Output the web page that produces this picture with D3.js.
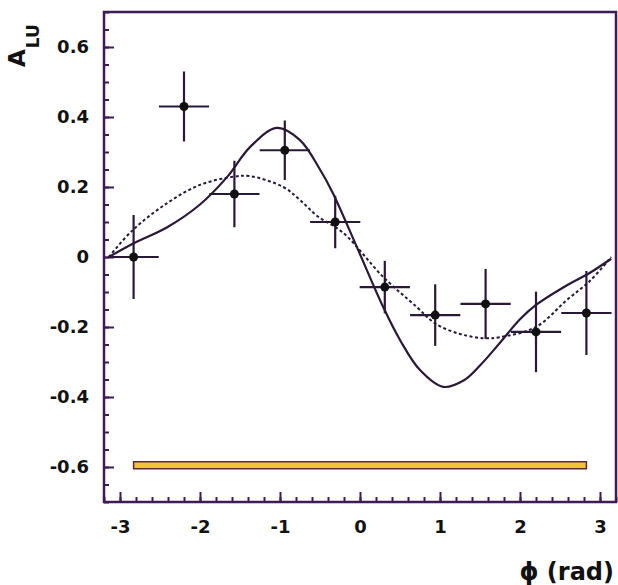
<!DOCTYPE html>
<html>
<head>
<meta charset="utf-8">
<script src="https://cdn.jsdelivr.net/npm/d3@7"></script>
<style>
  body { margin: 0; background: #fff; }
  svg text { font-family: "DejaVu Sans", sans-serif; font-weight: bold; fill: #111; }
</style>
</head>
<body>
<div id="chart"></div>
<script>
// measured asymmetry per phi bin
var binCenters = [-2.83, -2.2, -1.57, -0.94, -0.31, 0.31, 0.94, 1.57, 2.2, 2.83];
var binHalfWidth = [0.314, 0.314, 0.314, 0.314, 0.314, 0.314, 0.314, 0.314, 0.314, 0.314];
var asym = [0.0, 0.43, 0.18, 0.305, 0.1, -0.086, -0.166, -0.134, -0.214, -0.16];
var statErr = [0.12, 0.10, 0.095, 0.085, 0.075, 0.075, 0.088, 0.10, 0.115, 0.12];

// model curves
var solidPhi = [-3.14, -2.84, -2.41, -2.0, -1.66, -1.375, -1.04, -0.75, -0.5, -0.34, -0.04, 0.29, 0.5, 0.75, 1.04, 1.3, 1.5, 1.75, 2.0, 2.2, 2.54, 2.875, 3.14];
var solidA   = [0.0, 0.038, 0.085, 0.15, 0.229, 0.314, 0.369, 0.334, 0.25, 0.183, 0.029, -0.143, -0.237, -0.323, -0.371, -0.352, -0.31, -0.245, -0.178, -0.137, -0.087, -0.045, -0.005];
var dashPhi = [-3.14, -2.84, -2.41, -2.0, -1.59, -1.375, -0.96, -0.75, -0.54, -0.21, 0.29, 0.71, 0.94, 1.25, 1.55, 1.75, 2.2, 2.58, 2.875, 3.14];
var dashA   = [0.0, 0.077, 0.154, 0.206, 0.229, 0.231, 0.2, 0.163, 0.118, 0.069, -0.057, -0.143, -0.19, -0.22, -0.232, -0.229, -0.2, -0.124, -0.068, 0.0];

// systematic band
var sysBandPhi = [-2.83, 2.83];
var sysBandA = [-0.605, -0.585];

var xMajor = [-3, -2, -1, 0, 1, 2, 3];
var yMajor = [-0.6, -0.4, -0.2, 0, 0.2, 0.4, 0.6];

var W = 618, H = 585;
var mLeft = 104, mRight = 616, mTop = 12, mBottom = 502;
var ink = "#2a1838", frame = "#3f1a55";

var svg = d3.select("#chart").append("svg")
    .attr("width", W)
    .attr("height", H);

var x = d3.scaleLinear().domain([-3.2, 3.2]).range([mLeft, mRight]);
var y = d3.scaleLinear().domain([-0.7, 0.7]).range([mBottom, mTop]);

// minor ticks
var xMinor = d3.range(-3.2, 3.21, 0.2).map(function(d){ return +d.toFixed(2); });
var yMinor = d3.range(-0.7, 0.701, 0.05).map(function(d){ return +d.toFixed(2); });

svg.append("g")
    .attr("transform", "translate(0," + mBottom + ")")
    .call(d3.axisBottom(x).tickValues(xMinor).tickSize(-5).tickFormat(""))
    .call(function(g){ g.select(".domain").remove(); g.selectAll("line").attr("stroke", frame).attr("stroke-width", 2); });

svg.append("g")
    .attr("transform", "translate(" + mLeft + ",0)")
    .call(d3.axisLeft(y).tickValues(yMinor).tickSize(-5).tickFormat(""))
    .call(function(g){ g.select(".domain").remove(); g.selectAll("line").attr("stroke", frame).attr("stroke-width", 2); });

// major ticks + labels
svg.append("g")
    .attr("transform", "translate(0," + mBottom + ")")
    .call(d3.axisBottom(x).tickValues(xMajor).tickSize(-10).tickPadding(18).tickFormat(function(d){ return String(d); }))
    .call(function(g){
        g.select(".domain").remove();
        g.selectAll("line").attr("stroke", frame).attr("stroke-width", 2);
        g.selectAll("text").attr("font-size", 18).attr("fill", "#111")
            .style("font-family", "DejaVu Sans, sans-serif").style("font-weight", "bold");
    });

svg.append("g")
    .attr("transform", "translate(" + mLeft + ",0)")
    .call(d3.axisLeft(y).tickValues(yMajor).tickSize(-10).tickPadding(15)
        .tickFormat(function(d){ return d === 0 ? "0" : d.toFixed(1); }))
    .call(function(g){
        g.select(".domain").remove();
        g.selectAll("line").attr("stroke", frame).attr("stroke-width", 2);
        g.selectAll("text").attr("font-size", 18).attr("fill", "#111")
            .style("font-family", "DejaVu Sans, sans-serif").style("font-weight", "bold");
    });

// frame
svg.append("rect")
    .attr("x", mLeft).attr("y", mTop)
    .attr("width", mRight - mLeft).attr("height", mBottom - mTop)
    .attr("fill", "none").attr("stroke", frame).attr("stroke-width", 2.5);

// systematic band
svg.append("rect")
    .attr("x", x(sysBandPhi[0]))
    .attr("y", y(sysBandA[1]))
    .attr("width", x(sysBandPhi[1]) - x(sysBandPhi[0]))
    .attr("height", y(sysBandA[0]) - y(sysBandA[1]))
    .attr("fill", "#f2c23a")
    .attr("stroke", "#5a2a3a")
    .attr("stroke-width", 1.5);

// curves
var line = d3.line()
    .x(function(d){ return x(d[0]); })
    .y(function(d){ return y(d[1]); })
    .curve(d3.curveCatmullRom.alpha(0.5));

svg.append("path")
    .datum(d3.zip(dashPhi, dashA))
    .attr("d", line)
    .attr("fill", "none")
    .attr("stroke", ink)
    .attr("stroke-width", 2)
    .attr("stroke-dasharray", "3,2.5");

svg.append("path")
    .datum(d3.zip(solidPhi, solidA))
    .attr("d", line)
    .attr("fill", "none")
    .attr("stroke", ink)
    .attr("stroke-width", 2.2);

// data points
var pts = binCenters.map(function(c, i){
    return {x: c, hw: binHalfWidth[i], y: asym[i], e: statErr[i]};
});

var g = svg.append("g").selectAll("g").data(pts).enter().append("g");

g.append("line")
    .attr("x1", function(d){ return x(d.x - d.hw); })
    .attr("x2", function(d){ return x(d.x + d.hw); })
    .attr("y1", function(d){ return y(d.y); })
    .attr("y2", function(d){ return y(d.y); })
    .attr("stroke", ink).attr("stroke-width", 2.2);

g.append("line")
    .attr("x1", function(d){ return x(d.x); })
    .attr("x2", function(d){ return x(d.x); })
    .attr("y1", function(d){ return y(d.y - d.e); })
    .attr("y2", function(d){ return y(d.y + d.e); })
    .attr("stroke", ink).attr("stroke-width", 2.2);

g.append("circle")
    .attr("cx", function(d){ return x(d.x); })
    .attr("cy", function(d){ return y(d.y); })
    .attr("r", 4.5)
    .attr("fill", "#111");

// axis titles
var yt = svg.append("text")
    .attr("transform", "translate(25,67) rotate(-90)")
    .attr("font-size", 23);
yt.append("tspan").text("A");
yt.append("tspan").attr("font-size", 17).attr("dy", 14).attr("dx", 1).text("LU");

svg.append("text")
    .attr("x", 614).attr("y", 580)
    .attr("text-anchor", "end")
    .attr("font-size", 24)
    .text("\u03d5 (rad)");
</script>
</body>
</html>
